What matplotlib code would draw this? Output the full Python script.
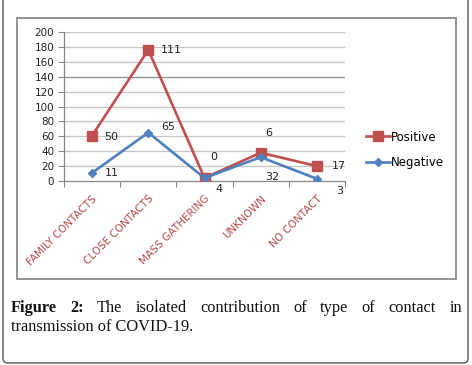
import matplotlib
matplotlib.use("Agg")
import matplotlib.pyplot as plt
import numpy as np
from matplotlib.patches import FancyBboxPatch, Rectangle

categories = ["FAMILY CONTACTS", "CLOSE CONTACTS", "MASS GATHERING", "UNKNOWN", "NO CONTACT"]
negative = [11, 65, 4, 32, 3]
positive = [50, 111, 0, 6, 17]
yticks = [0, 20, 40, 60, 80, 100, 120, 140, 160, 180, 200]
caption_line1 = "Figure 2: The isolated contribution of type of contact in"
caption_line2 = "transmission of COVID-19."

W, H = 472, 365
fig = plt.figure(figsize=(W / 100, H / 100), dpi=100)

def fx(px):
    return px / W

def fy(py):
    return 1 - py / H

# outer rounded frame
outer = FancyBboxPatch((fx(3), fy(363)), fx(465), 1.2, boxstyle="round,pad=0,rounding_size=0.012",
                       transform=fig.transFigure, fill=False, edgecolor="#555555", lw=1.0)
fig.patches.append(outer)
# chart area frame
fig.patches.append(Rectangle((fx(17), fy(279)), fx(439), (279 - 18) / H, transform=fig.transFigure,
                             fill=False, edgecolor="#8a8a8a", lw=1.3))

ax = fig.add_axes([fx(64), fy(181), fx(345 - 64), (181 - 32) / H])
x = np.arange(len(categories))
neg = np.array(negative)
pos_cum = neg + np.array(positive)

red = "#C0504D"
blue = "#4F81BD"
ax.plot(x, pos_cum, color=red, lw=1.9, marker="s", markersize=7, label="Positive", zorder=3)
ax.plot(x, neg, color=blue, lw=1.9, marker="D", markersize=4.5, label="Negative", zorder=4)

ax.set_xlim(-0.5, len(categories) - 0.5)
ax.set_ylim(0, 200)
ax.set_yticks(yticks)
ax.set_yticklabels([str(v) for v in yticks], fontsize=7.5, color="#222222")
for v in yticks[1:]:
    ax.axhline(v, color="#8c8c8c" if v == 140 else "#c4c4c4", lw=0.9, zorder=0)
ax.set_xticks(np.arange(-0.5, len(categories), 1.0))
ax.set_xticklabels([])
ax.set_xticks(x, minor=True)
ax.set_xticklabels(categories, minor=True, rotation=45, ha="right", va="top",
                   fontsize=7.5, color="#B04A48", rotation_mode="anchor")
ax.tick_params(axis="x", which="minor", length=0, pad=9)
ax.tick_params(axis="x", which="major", length=4, color="#868686", direction="out")
ax.tick_params(axis="y", length=4, color="#868686", pad=3)
for s in ["top", "right"]:
    ax.spines[s].set_visible(False)
for s in ["left", "bottom"]:
    ax.spines[s].set_color("#868686")
    ax.spines[s].set_linewidth(0.9)

# data labels (offsets in points)
neg_off = [(9, 0), (9, 4), (8, -8), (3, -14), (14, -9)]
pos_off = [(9, -1), (9, 0), (4, 15), (3, 14), (11, 0)]
for i in range(len(categories)):
    ax.annotate(str(negative[i]), (x[i], neg[i]), xytext=neg_off[i], textcoords="offset points",
                fontsize=8, ha="left", va="center", color="#222222", annotation_clip=False)
    ax.annotate(str(positive[i]), (x[i], pos_cum[i]), xytext=pos_off[i], textcoords="offset points",
                fontsize=8, ha="left", va="center", color="#222222", annotation_clip=False)

fig.legend(loc="center left", bbox_to_anchor=(fx(360), fy(150)), frameon=False, fontsize=8.5,
           handlelength=2.0, labelspacing=1.1, handletextpad=0.1, borderpad=0)

# justified caption
renderer = fig.canvas.get_renderer()
words = caption_line1.split(" ")
cap_font = dict(family="Liberation Serif", fontsize=11.8, color="#111111")
left, right = 11, 462
texts = []
widths = []
for i, w in enumerate(words):
    weight = "bold" if i < 2 else "normal"
    t = fig.text(0, 0, w, fontweight=weight, va="baseline", ha="left", **cap_font)
    texts.append(t)
    widths.append(t.get_window_extent(renderer).width)
gap = (right - left - sum(widths)) / (len(words) - 1)
cx = left
for t, wd in zip(texts, widths):
    t.set_position((fx(cx), fy(312)))
    cx += wd + gap
fig.text(fx(left), fy(331), caption_line2, va="baseline", ha="left", **cap_font)

fig.savefig("out.png", dpi=100)
